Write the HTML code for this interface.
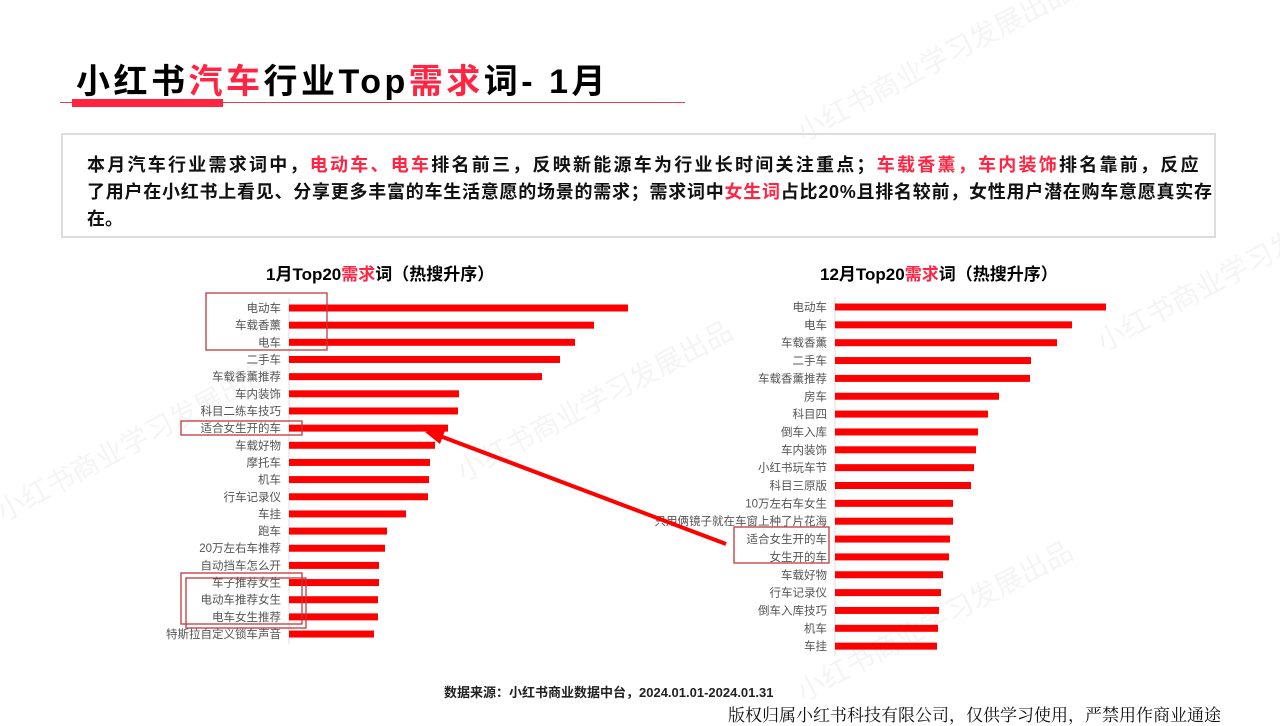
<!DOCTYPE html>
<html><head><meta charset="utf-8">
<style>
body{margin:0;width:1280px;height:720px;overflow:hidden;background:#fff;font-family:"Liberation Sans","Noto Sans CJK SC",sans-serif;position:relative}
.abs{position:absolute}
.red{color:#ff2442}
.wm{position:absolute;color:rgba(0,0,0,0.045);font-size:28px;transform:rotate(-28deg);white-space:nowrap;pointer-events:none}
.ln{display:block}
</style></head><body>
<div class="wm" style="left:780px;top:40px">小红书商业学习发展出品</div>
<div class="wm" style="left:440px;top:380px">小红书商业学习发展出品</div>
<div class="wm" style="left:1080px;top:250px">小红书商业学习发展出品</div>
<div class="wm" style="left:-20px;top:420px">小红书商业学习发展出品</div>
<div class="wm" style="left:780px;top:600px">小红书商业学习发展出品</div>

<div class="abs" style="left:76px;top:54px;font-size:34px;font-weight:bold;color:#000;white-space:nowrap;letter-spacing:3.5px">小红书<span class="red">汽车</span>行业Top<span class="red">需求</span>词- 1月</div>
<div class="abs" style="left:60px;top:102px;width:625px;height:1px;background:#e04050"></div>
<div class="abs" style="left:72px;top:99px;width:151px;height:8px;background:#ff2442"></div>

<div class="abs" style="left:61px;top:133px;width:1155px;height:105px;border:2px solid #ddd;box-sizing:border-box"></div>
<div class="abs" style="left:87px;top:152px;width:1140px;font-size:18px;font-weight:bold;line-height:27px;color:#111;white-space:nowrap">
<span class="ln" style="letter-spacing:2.25px">本月汽车行业需求词中，<span class="red">电动车、电车</span>排名前三，反映新能源车为行业长时间关注重点；<span class="red">车载香薰，车内装饰</span>排名靠前，反应</span>
<span class="ln" style="letter-spacing:0.75px">了用户在小红书上看见、分享更多丰富的车生活意愿的场景的需求；需求词中<span class="red">女生词</span>占比20%且排名较前，女性用户潜在购车意愿真实存</span>
<span class="ln">在。</span></div>

<div class="abs" style="left:266px;top:260px;font-size:17px;font-weight:bold">1月Top20<span class="red">需求</span>词（热搜升序）</div>
<div class="abs" style="left:820px;top:260px;font-size:17px;font-weight:bold">12月Top20<span class="red">需求</span>词（热搜升序）</div>

<svg id="chart" class="abs" style="left:0;top:0" width="1280" height="720"></svg>

<div class="abs" style="left:444px;top:682px;font-size:13px;font-weight:bold;color:#222">数据来源：小红书商业数据中台，2024.01.01-2024.01.31</div>
<div class="abs" style="left:728px;top:701px;font-size:17px;font-family:'Liberation Serif','Noto Serif CJK SC',serif;color:#111">版权归属小红书科技有限公司，仅供学习使用，严禁用作商业通途</div>

<script>
const leftCats=["电动车","车载香薰","电车","二手车","车载香薰推荐","车内装饰","科目二练车技巧","适合女生开的车","车载好物","摩托车","机车","行车记录仪","车挂","跑车","20万左右车推荐","自动挡车怎么开","车子推荐女生","电动车推荐女生","电车女生推荐","特斯拉自定义锁车声音"];
const leftVals=[339,305,286,271,253,170,169,159,146,141,140,139,117,98,96,90,90,89,89,85];
const rightCats=["电动车","电车","车载香薰","二手车","车载香薰推荐","房车","科目四","倒车入库","车内装饰","小红书玩车节","科目三原版","10万左右车女生","只用俩镜子就在车窗上种了片花海","适合女生开的车","女生开的车","车载好物","行车记录仪","倒车入库技巧","机车","车挂"];
const rightVals=[271,237,222,196,195,164,153,143,141,139,136,118,118,115,114,108,106,104,103,102];
const NS="http://www.w3.org/2000/svg";
const svg=document.getElementById('chart');
function mk(t,a){const e=document.createElementNS(NS,t);for(const k in a)e.setAttribute(k,a[k]);svg.appendChild(e);return e;}
function drawChart(cats,vals,x0,y0,step,pxPerUnit,name){
  const ax=mk('line',{x1:x0,x2:x0,y1:y0-10,y2:y0+step*(cats.length-1)+10,stroke:'#ddd','stroke-width':1});
  
  
  cats.forEach((c,i)=>{
    const y=y0+i*step;
    const r=mk('rect',{x:x0,y:y-3.5,width:vals[i]*pxPerUnit,height:7,fill:'#ff0000'});
    
    
    const t=mk('text',{x:x0-8,y:y+4,'text-anchor':'end','font-size':11.5,fill:'#555','font-family':'Liberation Sans, Noto Sans CJK SC, sans-serif'});
    t.textContent=c;
    
    
  });
}
drawChart(leftCats,leftVals,289,308,17.16,1,'left');
drawChart(rightCats,rightVals,835,307,17.85,1,'right');
function box(x,y,w,h,n){const b=mk('rect',{x:x,y:y,width:w,height:h,fill:'none',stroke:'#c0393b','stroke-width':1.3});}
box(206,293,121,57,'highlight-box');
box(181,421,121,14,'highlight-box');
box(181,573,121,51,'highlight-box');
box(186,578,120,50,'highlight-box');
box(734,527,95,36,'highlight-box');
const ar=mk('line',{x1:726,y1:544,x2:440,y2:436,stroke:'#ff0000','stroke-width':4});


const ah=mk('polygon',{points:'425,432 446,428 440,444',fill:'#ff0000'});


</script>
</body></html>
